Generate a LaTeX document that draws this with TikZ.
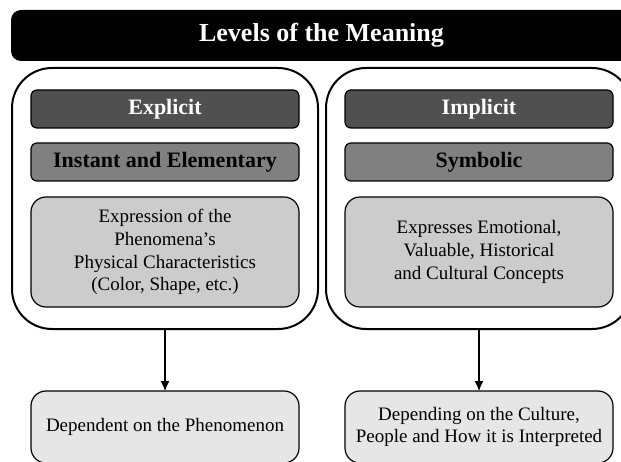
\documentclass[tikz,border=0pt]{standalone}
\usepackage{fontspec}
\setmainfont{Liberation Serif}
\usetikzlibrary{arrows.meta,backgrounds,fit,positioning}
\definecolor{headfill}{HTML}{505050}
\definecolor{subfill}{HTML}{808080}
\definecolor{bodyfill}{HTML}{CCCCCC}
\definecolor{resfill}{HTML}{E6E6E6}

\begin{document}
\begin{tikzpicture}[x=1pt,y=-1pt,node distance=15pt,
    box/.style={draw,line width=1.2pt,minimum width=268pt,outer sep=0pt},
    level/.style={box,rounded corners=6pt,minimum height=38pt,font=\fontsize{22}{26}\selectfont\bfseries},
    textbox/.style={box,rounded corners=15pt,align=center,font=\fontsize{19}{22.7}\selectfont},
    frame/.style={draw,line width=2pt,rounded corners=40pt,inner xsep=19pt,inner ysep=22pt}]
      \useasboundingbox (0,0) rectangle (621,462);
      \clip (0,0) rectangle (621,462);
      \node (title) [fill=black,text=white,rounded corners=10pt,minimum width=621pt,minimum height=51pt,
        font=\fontsize{26}{30}\selectfont\bfseries] at (321.5,35.5) {Levels of the Meaning};
      \begin{scope}
        \node (expl) [level,fill=headfill,text=white] at (165,109) {Explicit};
        \node (inst) [level,fill=subfill,below= of expl] {Instant and Elementary};
        \node (phys) [textbox,fill=bodyfill,minimum height=110pt,below= 16pt of inst]
          {Expression of the\\Phenomena’s\\Physical Characteristics\\(Color, Shape, etc.)};
        \node (impl) [level,fill=headfill,text=white] at (479,109) {Implicit};
        \node (symb) [level,fill=subfill,below= of impl] {Symbolic};
        \node (conc) [textbox,fill=bodyfill,minimum height=110pt,below= 16pt of symb]
          {Expresses Emotional,\\Valuable, Historical\\and Cultural Concepts};
      \end{scope}
      \begin{scope}[on background layer]
        \node (leftframe) [frame,fit= (expl) (phys)] {};
        \node (rightframe) [frame,fit= (impl) (conc)] {};
      \end{scope}
      \node (phen) [textbox,fill=resfill,minimum height=72pt,below= 61pt of leftframe]
        {Dependent on the Phenomenon};
      \node (cult) [textbox,fill=resfill,minimum height=72pt,below= 61pt of rightframe]
        {Depending on the Culture,\\People and How it is Interpreted};
      \begin{scope}
        [every edge/.style={draw= black,line width=1.2pt,-{Latex[length=10pt,width=9pt]}}]
        \path (leftframe) edge (phen);
        \path (rightframe) edge (cult);
      \end{scope}
    \end{tikzpicture}
\end{document}
